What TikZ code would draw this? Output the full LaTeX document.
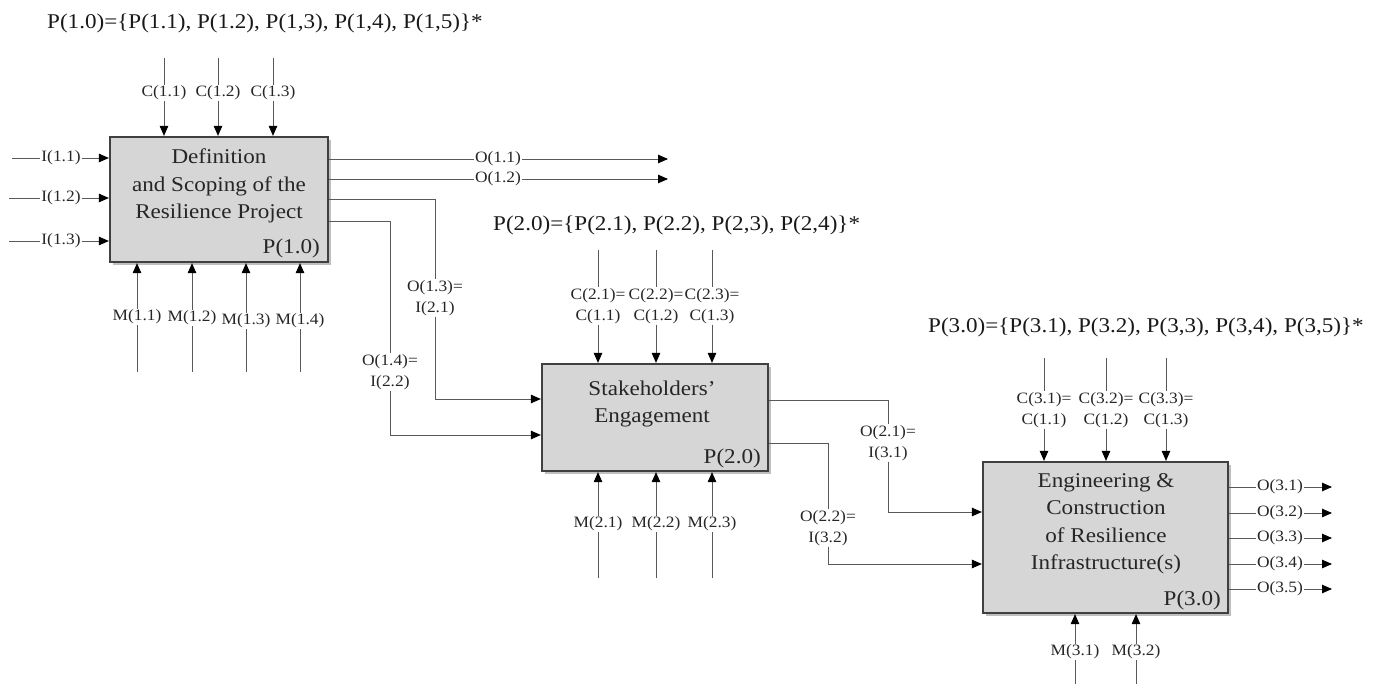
\documentclass[tikz,border=0pt]{standalone}
\usepackage{fontspec}
\setmainfont{Liberation Serif}[FakeStretch=1.1]
\usetikzlibrary{arrows.meta,shadows}
\begin{document}
\begin{tikzpicture}[x=1pt,y=-1pt,
  conn/.style={draw=black!65, line width=0.9pt},
  arr/.style={conn, -{Triangle[length=10pt,width=8.5pt,color=black]}},
  lab/.style={font=\fontsize{15.8}{20.5}\selectfont, inner sep=1pt, align=center, text=black!85},
  box/.style={draw=black!75, line width=2.2pt, fill=black!16, drop shadow={shadow xshift=2.5pt, shadow yshift=-3pt, opacity=0.5}, inner sep=0pt},
  boxtext/.style={font=\fontsize{21}{27.5}\selectfont, align=center, inner sep=0pt, text=black!85},
  ptag/.style={font=\fontsize{21}{25}\selectfont, anchor=east, inner sep=0pt, text=black!85},
  head/.style={font=\fontsize{21}{25}\selectfont, anchor=base west, inner sep=0pt, text=black!90}
]
\useasboundingbox (0,0) rectangle (1379,684);

% boxes
\node[box, minimum width=218pt, minimum height=125pt] (b1) at (219,199.5) {};
\node[box, minimum width=226pt, minimum height=107pt] (b2) at (655,417.5) {};
\node[box, minimum width=245pt, minimum height=151pt] (b3) at (1105.5,537.5) {};

\node[boxtext] (t1) at (219,186) {Definition\\and Scoping of the\\Resilience Project};
\node[boxtext] (t2) at (652,404) {Stakeholders’\\Engagement};
\node[boxtext] (t3) at (1106,524) {Engineering \&\\Construction\\of Resilience\\Infrastructure(s)};
\node[ptag] (p1) at (320,248) {P(1.0)};
\node[ptag] (p2) at (761,458) {P(2.0)};
\node[ptag] (p3) at (1221,600) {P(3.0)};

% headers
\node[head] (h1) at (47,29) {P(1.0)=\{P(1.1), P(1.2), P(1,3), P(1,4), P(1,5)\}*};
\node[head] (h2) at (493,231) {P(2.0)=\{P(2.1), P(2.2), P(2,3), P(2,4)\}*};
\node[head] (h3) at (928,333) {P(3.0)=\{P(3.1), P(3.2), P(3,3), P(3,4), P(3,5)\}*};

% ---- box 1 ----
\foreach \x/\n in {164/1, 218/2, 273/3} {
  \coordinate (c1\n s) at (\x,58);
  \node[lab] (c1\n) at (\x,93) {C(1.\n)};
  \draw[conn] (c1\n s) -- (c1\n);
  \draw[arr] (c1\n) -- (c1\n |- b1.north);
}
\foreach \y/\n/\s in {158/1/12, 198/2/9, 241/3/9} {
  \coordinate (i1\n s) at (\s,\y);
  \node[lab] (i1\n) at (61,\y) {I(1.\n)};
  \draw[conn] (i1\n s) -- (i1\n);
  \draw[arr] (i1\n) -- (i1\n -| b1.west);
}
\foreach \x/\n/\ly in {137/1/317, 192/2/318, 246/3/321, 300/4/321} {
  \coordinate (m1\n s) at (\x,372);
  \node[lab] (m1\n) at (\x,\ly) {M(1.\n)};
  \draw[conn] (m1\n s) -- (m1\n);
  \draw[arr] (m1\n) -- (m1\n |- b1.south);
}
\foreach \y/\n in {159/1, 179/2} {
  \coordinate (o1\n e) at (668,\y);
  \node[lab] (o1\n) at (498,\y) {O(1.\n)};
  \draw[conn] (o1\n -| b1.east) -- (o1\n);
  \draw[arr] (o1\n) -- (o1\n e);
}
\coordinate (o13a) at (435,199); \coordinate (o13b) at (435,399);
\node[lab] (o13) at (435,298) {O(1.3)=\\I(2.1)};
\draw[conn] (o13a -| b1.east) -- (o13a) -- (o13);
\draw[arr] (o13) -- (o13b) -- (o13b -| b2.west);
\coordinate (o14a) at (390,221); \coordinate (o14b) at (390,435);
\node[lab] (o14) at (390,372) {O(1.4)=\\I(2.2)};
\draw[conn] (o14a -| b1.east) -- (o14a) -- (o14);
\draw[arr] (o14) -- (o14b) -- (o14b -| b2.west);

% ---- box 2 ----
\foreach \x/\n in {598/1, 656/2, 712/3} {
  \coordinate (c2\n s) at (\x,250);
  \node[lab] (c2\n) at (\x,306) {C(2.\n)=\\C(1.\n)};
  \draw[conn] (c2\n s) -- (c2\n);
  \draw[arr] (c2\n) -- (c2\n |- b2.north);
  \coordinate (m2\n s) at (\x,578);
  \node[lab] (m2\n) at (\x,524) {M(2.\n)};
  \draw[conn] (m2\n s) -- (m2\n);
  \draw[arr] (m2\n) -- (m2\n |- b2.south);
}
\coordinate (o21a) at (888,400); \coordinate (o21b) at (888,512);
\node[lab] (o21) at (888,443) {O(2.1)=\\I(3.1)};
\draw[conn] (o21a -| b2.east) -- (o21a) -- (o21);
\draw[arr] (o21) -- (o21b) -- (o21b -| b3.west);
\coordinate (o22a) at (828,443); \coordinate (o22b) at (828,564);
\node[lab] (o22) at (828,528) {O(2.2)=\\I(3.2)};
\draw[conn] (o22a -| b2.east) -- (o22a) -- (o22);
\draw[arr] (o22) -- (o22b) -- (o22b -| b3.west);

% ---- box 3 ----
\foreach \x/\n in {1044/1, 1106/2, 1166/3} {
  \coordinate (c3\n s) at (\x,358);
  \node[lab] (c3\n) at (\x,410) {C(3.\n)=\\C(1.\n)};
  \draw[conn] (c3\n s) -- (c3\n);
  \draw[arr] (c3\n) -- (c3\n |- b3.north);
}
\foreach \x/\n in {1075/1, 1136/2} {
  \coordinate (m3\n s) at (\x,684);
  \node[lab] (m3\n) at (\x,652) {M(3.\n)};
  \draw[conn] (m3\n s) -- (m3\n);
  \draw[arr] (m3\n) -- (m3\n |- b3.south);
}
\foreach \y/\n in {487/1, 513/2, 538/3, 564/4, 589/5} {
  \coordinate (o3\n e) at (1332,\y);
  \node[lab] (o3\n) at (1280,\y) {O(3.\n)};
  \draw[conn] (o3\n -| b3.east) -- (o3\n);
  \draw[arr] (o3\n) -- (o3\n e);
}
\end{tikzpicture}
\end{document}
